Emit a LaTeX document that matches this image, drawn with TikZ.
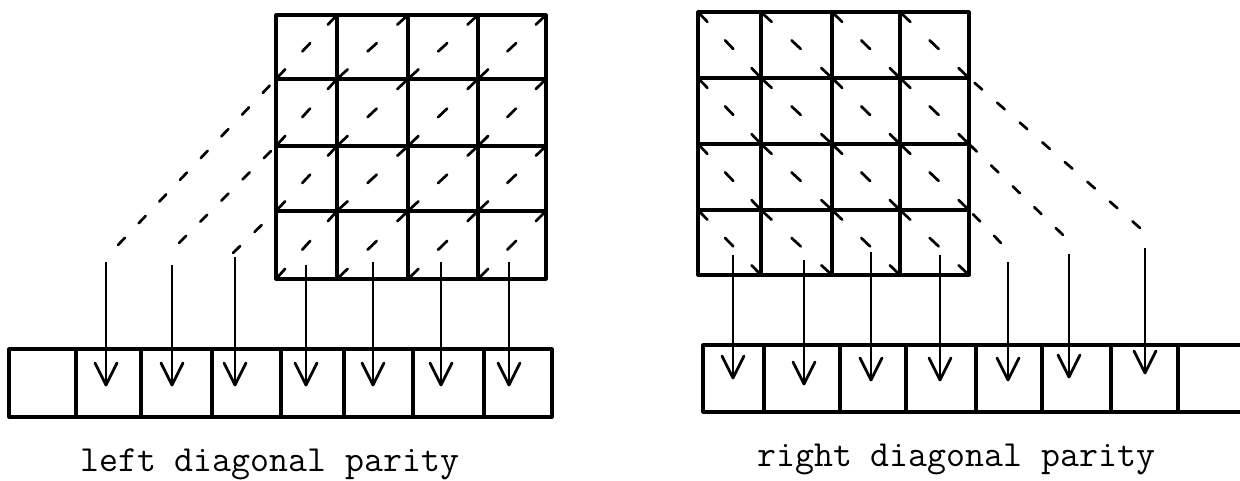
\documentclass[tikz,border=0pt]{standalone}
\usetikzlibrary{calc}
\begin{document}
\begin{tikzpicture}[x=1pt,y=-1pt,
  gridline/.style={line width=3.1pt, line cap=round, line join=round},
  dashseg/.style={line width=2.7pt, line cap=round},
  dashlong/.style={line width=2.7pt, line cap=round, dash pattern=on 10pt off 20pt},
  feed/.style={line width=2.2pt},
  vhead/.style={line width=2.8pt, line cap=round, line join=round},
  caption/.style={anchor=base west, inner sep=0pt, font=\fontsize{36.8}{40}\selectfont\ttfamily}]

\useasboundingbox (0,0) rectangle (1240,480);

% ---------- left: data block with "/" diagonals ----------
\foreach \x in {337,408,478} \draw[gridline] (\x,15) -- (\x,279);
\foreach \y in {79,146,211} \draw[gridline] (276,\y) -- (546,\y);
\draw[gridline] (276,15) rectangle (546,279);

\foreach \xa/\xb in {276/337,337/408,408/478,478/546}
  \foreach \ya/\yb in {15/79,79/146,146/211,211/279}
    \foreach \s/\e in {0.03/0.15,0.43/0.56,0.85/0.97}
      \draw[dashseg] ($(\xa,\yb)!\s!(\xb,\ya)$) -- ($(\xa,\yb)!\e!(\xb,\ya)$);

% diagonals leaving the block on the left side
\coordinate (L0) at (276,79);  \coordinate (L0e) at (118,245);
\coordinate (L1) at (276,146); \coordinate (L1e) at (179,243);
\coordinate (L2) at (276,211); \coordinate (L2e) at (233,253);
\draw[dashlong] (L0e) -- (L0);
\draw[dashlong] (L1e) -- (L1);
\draw[dashlong] (L2e) -- (L2);

% left parity row
\draw[gridline] (9,349) rectangle (552,417);
\foreach \x in {76,141,212,281,344,413,484} \draw[gridline] (\x,349) -- (\x,417);

% left feed arrows
\foreach \n/\x/\ys in {1/106/262,2/172/265,3/235/257,4/306/265,5/373/262,6/441/262,7/509/262}{
  \coordinate (la\n) at (\x,\ys);
  \coordinate (lt\n) at (\x,385);
  \draw[feed] (la\n) -- (lt\n);
  \draw[vhead] ($(lt\n)+(-11,-22)$) -- (lt\n) -- ($(lt\n)+(11,-22)$);
}

\node[caption] (capL) at (80,471) {left diagonal parity};

% ---------- right: data block with "\" diagonals ----------
\foreach \x in {761,832,900} \draw[gridline] (\x,12) -- (\x,275);
\foreach \y in {78,144,210} \draw[gridline] (698,\y) -- (969,\y);
\draw[gridline] (698,12) rectangle (969,275);

\foreach \xa/\xb in {698/761,761/832,832/900,900/969}
  \foreach \ya/\yb in {12/78,78/144,144/210,210/275}
    \foreach \s/\e in {0.03/0.15,0.43/0.56,0.85/0.97}
      \draw[dashseg] ($(\xa,\ya)!\s!(\xb,\yb)$) -- ($(\xa,\ya)!\e!(\xb,\yb)$);

% diagonals leaving the block on the right side
\coordinate (R0) at (969,78);  \coordinate (R0e) at (1140,228);
\coordinate (R1) at (969,144); \coordinate (R1e) at (1063,235);
\coordinate (R2) at (969,210); \coordinate (R2e) at (1001,243);
\draw[dashlong] (R0e) -- (R0);
\draw[dashlong] (R1e) -- (R1);
\draw[dashlong] (R2e) -- (R2);

% right parity row (open at the far right)
\draw[gridline] (1240,345) -- (703,345) -- (703,412) -- (1240,412);
\foreach \x in {764,840,906,976,1042,1111,1178} \draw[gridline] (\x,345) -- (\x,412);

% right feed arrows
\foreach \n/\x/\ys/\yt in {1/733/255/378,2/804/260/384,3/871/252/380,4/940/255/380,5/1008/262/380,6/1069/254/377,7/1145/248/373}{
  \coordinate (ra\n) at (\x,\ys);
  \coordinate (rt\n) at (\x,\yt);
  \draw[feed] (ra\n) -- (rt\n);
  \draw[vhead] ($(rt\n)+(-11,-22)$) -- (rt\n) -- ($(rt\n)+(11,-22)$);
}

\node[caption] (capR) at (757,466) {right diagonal parity};

\end{tikzpicture}
\end{document}
